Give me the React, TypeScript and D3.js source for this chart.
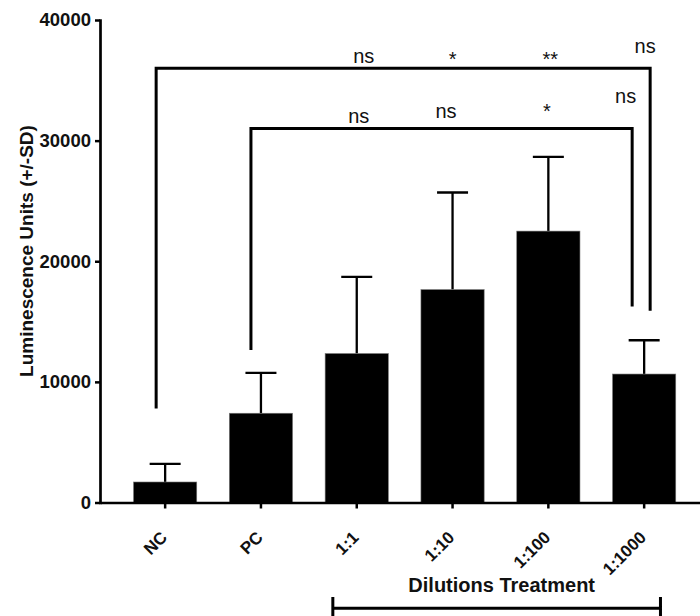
import React, { useEffect, useRef } from "react";
import * as d3 from "d3";

const categories = ["NC", "PC", "1:1", "1:10", "1:100", "1:1000"];
const means = [1700, 7400, 12350, 17650, 22500, 10650];
const sds = [1500, 3350, 6350, 8050, 6150, 2800];
const yTicks = [0, 10000, 20000, 30000, 40000];

// significance marks vs NC (outer bracket) and vs PC (inner bracket)
const sigGroups = ["1:1", "1:10", "1:100", "1:1000"];
const sigVsNC = ["ns", "*", "**", "ns"];
const sigVsNCLevel = [36450, 36200, 36200, 37300];
const sigVsPC = ["ns", "ns", "*", "ns"];
const sigVsPCLevel = [31500, 31900, 31850, 33100];

// brackets: [from, to, top, leftEnd, rightEnd]
const bracketNC = ["NC", "1:1000", 36000, 7800, 15900];
const bracketPC = ["PC", "1:1000", 31000, 12650, 16250];

const App = () => {
  const width = 700;
  const height = 616;
  const svgRef = useRef(null);

  useEffect(() => {
    if (!svgRef.current) return;
    const svg = d3.select(svgRef.current);
    svg.selectAll("*").remove();

    const font = "'Liberation Sans', Arial, sans-serif";

    const x = d3
      .scaleBand()
      .domain(categories)
      .range([100, 709.3])
      .paddingInner(0.34)
      .paddingOuter(0.35);
    const y = d3.scaleLinear().domain([0, 40000]).range([502.5, 20]);
    const cx = (c) => x(c) + x.bandwidth() / 2;

    const g = svg.append("g");

    // error bars (upper only)
    g.selectAll(".err")
      .data(categories)
      .enter()
      .append("path")
      .attr("class", "err")
      .attr("fill", "none")
      .attr("stroke", "#000")
      .attr("stroke-width", 2.3)
      .attr("d", (d, i) => {
        const px = cx(d);
        const top = y(means[i] + sds[i]);
        return `M${px},${y(means[i])}V${top}M${px - 15.5},${top}H${px + 15.5}`;
      });

    // bars
    g.selectAll(".bar")
      .data(categories)
      .enter()
      .append("rect")
      .attr("class", "bar")
      .attr("x", (d) => x(d))
      .attr("width", x.bandwidth())
      .attr("y", (d, i) => y(means[i]))
      .attr("height", (d, i) => y(0) - y(means[i]))
      .attr("fill", "#000")
      .attr("stroke", "#777")
      .attr("stroke-width", 0.6);

    // y axis
    const yAxis = g
      .append("g")
      .attr("transform", "translate(100,0)")
      .call(
        d3
          .axisLeft(y)
          .tickValues(yTicks)
          .tickSize(5)
          .tickSizeOuter(0)
          .tickPadding(4)
          .tickFormat(d3.format("d"))
      );
    yAxis.select(".domain").attr("stroke-width", 2.7).attr("stroke-linecap", "square");
    yAxis.selectAll(".tick line").attr("stroke-width", 2.5);
    yAxis
      .selectAll(".tick text")
      .attr("font-family", font)
      .attr("font-weight", "bold")
      .attr("font-size", 18.5)
      .attr("fill", "#111");

    // x axis
    const xAxis = g
      .append("g")
      .attr("transform", `translate(0,${y(0)})`)
      .call(d3.axisBottom(x).tickSize(6).tickSizeOuter(0));
    xAxis.select(".domain").attr("stroke-width", 2.7);
    xAxis.selectAll(".tick line").attr("stroke-width", 2.5);
    xAxis
      .selectAll(".tick text")
      .attr("font-family", font)
      .attr("font-weight", "bold")
      .attr("font-size", 17)
      .attr("fill", "#111")
      .attr("text-anchor", "end")
      .attr("y", 0)
      .attr("dy", 0)
      .attr("transform", "translate(3,36) rotate(-45)");

    // y label
    g.append("text")
      .attr("transform", "translate(33,251) rotate(-90)")
      .attr("text-anchor", "middle")
      .attr("font-family", font)
      .attr("font-weight", "bold")
      .attr("font-size", 19)
      .attr("fill", "#111")
      .text("Luminescence Units (+/-SD)");

    // comparison brackets
    const drawBracket = (b, dxLeft, dxRight) => {
      const [from, to, top, leftEnd, rightEnd] = b;
      const x0 = cx(from) + dxLeft;
      const x1 = cx(to) + dxRight;
      g.append("path")
        .attr("fill", "none")
        .attr("stroke", "#000")
        .attr("stroke-width", 3)
        .attr("stroke-linejoin", "miter")
        .attr("d", `M${x0},${y(leftEnd)}V${y(top)}H${x1}V${y(rightEnd)}`);
    };
    drawBracket(bracketNC, -9, 6);
    drawBracket(bracketPC, -10, -12);

    const ncOffsets = [7, 0, 2, 1];
    const pcOffsets = [2, -6.5, -1.5, -18.5];
    const sigText = (labels, levels, offsets) =>
      g
        .selectAll(null)
        .data(sigGroups)
        .enter()
        .append("text")
        .attr("x", (d, i) => cx(d) + offsets[i])
        .attr("y", (d, i) => y(levels[i]))
        .attr("text-anchor", "middle")
        .attr("font-family", font)
        .attr("font-size", 20)
        .attr("fill", "#111")
        .text((d, i) => labels[i]);
    sigText(sigVsNC, sigVsNCLevel, ncOffsets);
    sigText(sigVsPC, sigVsPCLevel, pcOffsets);

    // dilution group label + bracket
    g.append("text")
      .attr("x", 501.7)
      .attr("y", 591.7)
      .attr("text-anchor", "middle")
      .attr("font-family", font)
      .attr("font-weight", "bold")
      .attr("font-size", 20)
      .attr("fill", "#111")
      .text("Dilutions Treatment");

    const gx0 = x("1:1") + 7.7;
    const gx1 = x("1:1000") + x.bandwidth() - 15.3;
    g.append("path")
      .attr("fill", "none")
      .attr("stroke", "#000")
      .attr("stroke-width", 3)
      .attr("d", `M${gx0},597V620M${gx0},608.3H${gx1}M${gx1},597V620`);
  }, []);

  return (
    <div>
      <style>{`body{margin:0}`}</style>
      <svg
        ref={svgRef}
        width={width}
        height={height}
        style={{ display: "block", background: "#fff" }}
      />
    </div>
  );
};

export default App;
